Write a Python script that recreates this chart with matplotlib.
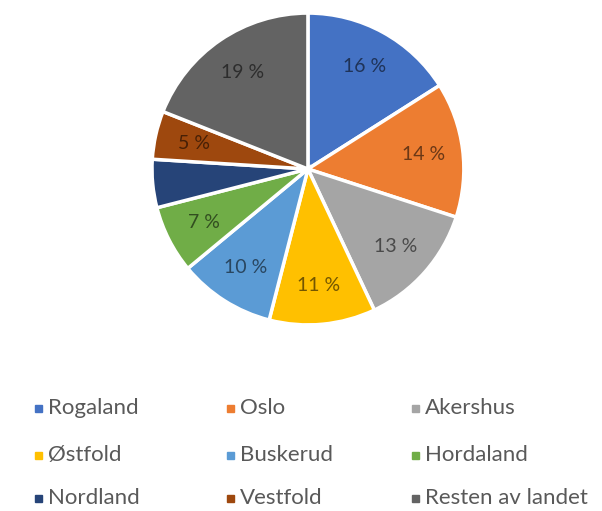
import matplotlib.pyplot as plt
from matplotlib.patches import Rectangle
from matplotlib.colors import to_rgb

fylker = ["Rogaland", "Oslo", "Akershus", "Østfold", "Buskerud",
          "Hordaland", "Nordland", "Vestfold", "Resten av landet"]
andel = [16, 14, 13, 11, 10, 7, 5, 5, 19]
farger = ["#4472C4", "#ED7D31", "#A5A5A5", "#FFC000", "#5B9BD5",
          "#70AD47", "#264478", "#9E480E", "#636363"]
vis_etikett = [True, True, True, True, True, True, False, True, True]

plt.rcParams['font.family'] = ['Lato', 'DejaVu Sans']

fig = plt.figure(figsize=(6.02, 5.11), dpi=100)
ax = fig.add_axes([0.2525, 0.364, 0.518, 0.6106])

wedges, texts, autotexts = ax.pie(
    andel, colors=farger, startangle=90, counterclock=False,
    autopct=lambda p: f"{p:.0f} %", pctdistance=0.75,
    wedgeprops=dict(edgecolor="white", linewidth=2.5),
    textprops=dict(fontsize=14))
ax.set_xlim(-1, 1)
ax.set_ylim(-1, 1)
ax.set_aspect("equal")

# label colour = darker shade of slice colour
for t, c, show in zip(autotexts, farger, vis_etikett):
    r, g, b = to_rgb(c)
    t.set_color((r * 0.45, g * 0.45, b * 0.45))
    if not show:
        t.set_visible(False)

# legend, 3 columns
kol_x = [38, 230, 415]
rad_y = [408, 455, 498]
W, H = 602, 511
for i, (navn, c) in enumerate(zip(fylker, farger)):
    x = kol_x[i % 3]
    y = rad_y[i // 3]
    fig.patches.append(Rectangle(((x - 3.5) / W, 1 - (y + 3.5) / H), 7 / W, 7 / H,
                                 transform=fig.transFigure, color=c))
    fig.text((x + 10) / W, 1 - y / H, navn, fontsize=16, color="#595959",
             va="center", ha="left")

fig.savefig("out.png", dpi=100)
